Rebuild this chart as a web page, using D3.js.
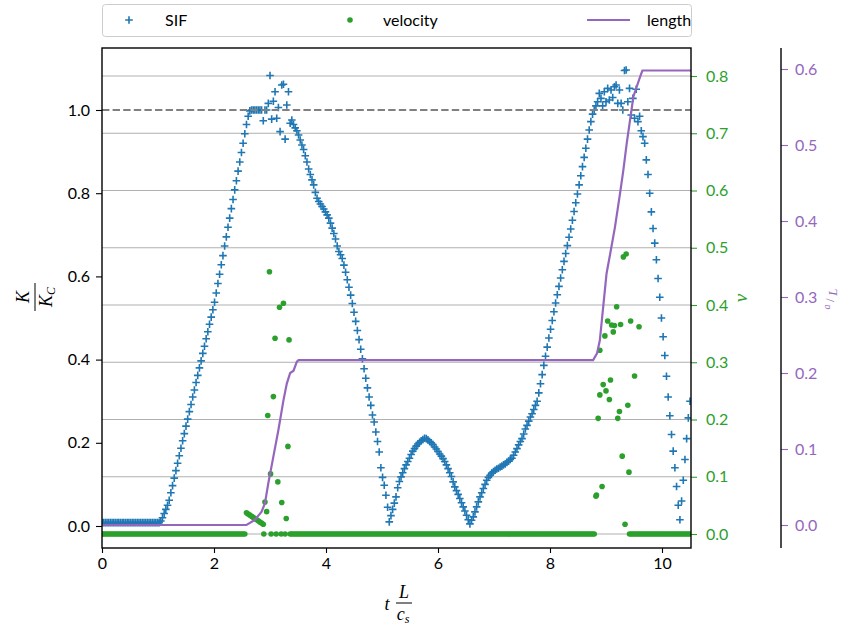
<!DOCTYPE html>
<html><head><meta charset="utf-8">
<script src="https://cdn.jsdelivr.net/npm/d3@7"></script>
<style>body{margin:0;background:#fff} svg{display:block}</style>
</head><body>
<svg id="c" width="843" height="631"></svg>
<script>
// ---------------- data ----------------
const dt = 0.03; // sampling step of the simulation output (t L / c_s)
// SIF K/K_C at every output step
const sifK = [
0.008,0.008,0.008,0.008,0.008,0.008,0.008,0.008,0.008,0.008,
0.008,0.008,0.008,0.008,0.008,0.008,0.008,0.008,0.008,0.008,
0.008,0.008,0.008,0.008,0.008,0.008,0.008,0.008,0.008,0.008,
0.008,0.008,0.008,0.008,0.008,0.012,0.02,0.03,0.04,0.05,
0.062,0.08,0.097,0.115,0.133,0.151,0.169,0.187,0.205,0.222,
0.24,0.257,0.275,0.292,0.31,0.327,0.345,0.362,0.38,0.397,
0.415,0.432,0.45,0.467,0.485,0.502,0.52,0.538,0.56,0.583,
0.605,0.628,0.65,0.673,0.695,0.718,0.74,0.763,0.785,0.808,
0.83,0.853,0.875,0.898,0.92,0.943,0.965,0.985,0.998,1.0,
1.0,1.0,1.0,1.0,1.0,1.0,0.974,1.0,1.0,1.016,
1.083,0.978,1.021,1.044,0.98,1.006,0.948,1.06,1.062,0.93,
1.012,1.044,0.968,0.976,0.965,0.957,0.95,0.94,0.928,0.916,
0.905,0.89,0.875,0.858,0.845,0.832,0.82,0.802,0.788,0.78,
0.774,0.768,0.762,0.755,0.748,0.74,0.728,0.716,0.703,0.69,
0.673,0.66,0.652,0.643,0.627,0.61,0.592,0.574,0.555,0.535,
0.514,0.492,0.47,0.448,0.425,0.402,0.378,0.355,0.332,0.31,
0.29,0.267,0.25,0.226,0.203,0.178,0.14,0.117,0.098,0.074,
0.045,0.01,0.025,0.04,0.055,0.07,0.092,0.107,0.118,0.128,
0.138,0.147,0.155,0.163,0.172,0.18,0.186,0.192,0.197,0.201,
0.205,0.208,0.211,0.21,0.207,0.203,0.2,0.196,0.19,0.185,
0.179,0.173,0.168,0.162,0.155,0.147,0.138,0.128,0.119,0.106,
0.094,0.085,0.076,0.066,0.056,0.046,0.036,0.026,0.015,0.005,
0.014,0.022,0.034,0.046,0.058,0.07,0.08,0.09,0.1,0.11,
0.117,0.122,0.127,0.131,0.134,0.137,0.139,0.142,0.144,0.147,
0.149,0.153,0.156,0.16,0.163,0.17,0.178,0.186,0.195,0.203,
0.21,0.221,0.233,0.242,0.252,0.262,0.27,0.28,0.29,0.3,
0.32,0.342,0.364,0.386,0.408,0.43,0.452,0.473,0.494,0.515,
0.536,0.556,0.576,0.596,0.616,0.636,0.655,0.674,0.694,0.714,
0.735,0.756,0.777,0.798,0.82,0.842,0.864,0.886,0.908,0.93,
0.952,0.972,0.99,1.0,1.01,1.02,1.04,1.028,1.01,1.044,
1.02,1.052,1.024,1.048,1.03,1.056,1.06,1.016,1.048,1.016,
1.0,1.095,1.096,1.02,1.052,0.988,1.028,0.98,1.05,0.972,
0.985,0.95,0.936,0.92,0.88,0.845,0.8,0.755,0.715,0.68,
0.64,0.595,0.55,0.5,0.455,0.41,0.36,0.31,0.265,0.22,
0.18,0.14,0.095,0.05,0.015,0.06,0.11,0.16,0.21,0.26,
0.3
];
// crack-tip velocity v at every output step (null = step listed in the burst arrays)
const velocity = [
0,0,0,0,0,0,0,0,0,0,
0,0,0,0,0,0,0,0,0,0,
0,0,0,0,0,0,0,0,0,0,
0,0,0,0,0,0,0,0,0,0,
0,0,0,0,0,0,0,0,0,0,
0,0,0,0,0,0,0,0,0,0,
0,0,0,0,0,0,0,0,0,0,
0,0,0,0,0,0,0,0,0,0,
0,0,0,0,0,0,0.037,0.035,0.033,0.031,
0.029,0.027,0.025,0.023,0.021,0.019,0.017,null,null,null,
null,null,null,null,null,null,null,null,null,null,
null,null,0,0,0,0,0,0,0,0,
0,0,0,0,0,0,0,0,0,0,
0,0,0,0,0,0,0,0,0,0,
0,0,0,0,0,0,0,0,0,0,
0,0,0,0,0,0,0,0,0,0,
0,0,0,0,0,0,0,0,0,0,
0,0,0,0,0,0,0,0,0,0,
0,0,0,0,0,0,0,0,0,0,
0,0,0,0,0,0,0,0,0,0,
0,0,0,0,0,0,0,0,0,0,
0,0,0,0,0,0,0,0,0,0,
0,0,0,0,0,0,0,0,0,0,
0,0,0,0,0,0,0,0,0,0,
0,0,0,0,0,0,0,0,0,0,
0,0,0,0,0,0,0,0,0,0,
0,0,0,0,0,0,0,0,0,0,
0,0,0,0,0,0,0,0,0,0,
0,0,0,0,0,0,0,0,0,0,
0,0,0,0,null,null,null,null,null,null,
null,null,null,null,null,null,null,null,null,null,
null,null,null,null,0,0,0,0,0,0,
0,0,0,0,0,0,0,0,0,0,
0,0,0,0,0,0,0,0,0,0,
0,0,0,0,0,0,0,0,0,0,
0
];
// velocity during the two propagation bursts
const burstT = [2.89,2.91,2.94,2.96,2.99,3.01,3.02,3.06,3.09,3.11,3.14,3.17,3.2,3.21,3.24,3.27,3.29,3.32,3.34,
  8.82,8.83,8.86,8.89,8.89,8.93,8.95,8.98,9.0,9.03,9.06,9.08,9.1,9.13,9.15,9.19,9.21,9.24,9.26,9.29,9.31,9.34,9.36,9.39,9.41,9.44,9.51,9.59];
const burstV = [0,0.056,0.039,0.207,0.458,0.105,0,0.24,0.342,0,0.091,0.396,0,0.055,0.403,0,0.027,0.153,0.339,
  0.066,0.068,0.202,0.321,0.243,0.083,0.261,0.346,0.25,0.372,0.235,0.269,0.365,0.353,0.364,0.397,0.202,0.214,0.366,0.136,0.484,0.017,0.489,0.225,0.108,0.372,0.276,0.362];
// crack length a/L
const lengthT = [0,2.58,2.73,2.85,2.91,2.97,3.06,3.15,3.24,3.30,3.36,3.42,3.48,3.51,8.77,8.84,8.89,8.95,9.01,9.07,9.16,9.25,9.31,9.37,9.43,9.49,9.55,9.61,9.65,10.6];
const lengthA = [0,0,0.0066,0.0175,0.0286,0.055,0.09,0.125,0.164,0.186,0.2,0.203,0.215,0.217,0.217,0.226,0.243,0.287,0.331,0.355,0.392,0.436,0.467,0.502,0.533,0.564,0.577,0.59,0.598,0.598];
const criticalK = 1.0;
const xTicks = [0,2,4,6,8,10];
const kTicks = [0,0.2,0.4,0.6,0.8,1.0];
const vTicks = [0,0.1,0.2,0.3,0.4,0.5,0.6,0.7,0.8];
const aTicks = [0,0.1,0.2,0.3,0.4,0.5,0.6];
const legendLabels = ["SIF","velocity","length"];

// ---------------- colours ----------------
const C_SIF = "#1f77b4", C_V = "#2ca02c", C_A = "#9467bd";
const FONT = "Lato, 'DejaVu Sans', sans-serif";
const MATH = "'Liberation Serif', 'DejaVu Serif', serif";

// ---------------- layout / scales ----------------
const L = 102, R = 691, T = 48, B = 548;
const time = sifK.map((_, i) => i * dt);
const x = d3.scaleLinear().domain([0, 10]).range([102, 662]);
const yK = d3.scaleLinear().domain([0, 1]).range([526, 110]);
const yV = d3.scaleLinear().domain([0, 0.8]).range([534, 76]);
const yA = d3.scaleLinear().domain([0, 0.6]).range([525, 69]);

const svg = d3.select("#c");
svg.append("defs").append("clipPath").attr("id", "clip")
  .append("rect").attr("x", L).attr("y", T).attr("width", R - L).attr("height", B - T);

// grid (velocity axis)
svg.append("g").selectAll("line").data(vTicks).join("line")
  .attr("x1", L).attr("x2", R).attr("y1", d => yV(d)).attr("y2", d => yV(d))
  .attr("stroke", "#b0b0b0").attr("stroke-width", 1);

const plot = svg.append("g").attr("clip-path", "url(#clip)");
const CROSS = "M-3.8,0H3.8M0,-3.8V3.8";

// SIF crosses
const sifPts = sifK.map((k, i) => ({t: time[i], k}));
plot.append("g").selectAll("path").data(sifPts).join("path")
  .attr("transform", d => `translate(${x(d.t)},${yK(d.k)})`)
  .attr("d", CROSS)
  .attr("stroke", C_SIF).attr("stroke-width", 1.6).attr("fill", "none");

// critical SIF
plot.append("line").attr("x1", L).attr("x2", R)
  .attr("y1", yK(criticalK)).attr("y2", yK(criticalK))
  .attr("stroke", "#808080").attr("stroke-width", 2.2).attr("stroke-dasharray", "7.4,3.2");

// velocity dots
const velPts = velocity.map((v, i) => ({t: time[i], v})).filter(d => d.v !== null)
  .concat(burstT.map((t, i) => ({t, v: burstV[i]})));
plot.append("g").selectAll("circle").data(velPts).join("circle")
  .attr("cx", d => x(d.t)).attr("cy", d => yV(d.v)).attr("r", 2.8).attr("fill", C_V);

// length line
const lenPts = lengthT.map((t, i) => ({t, a: lengthA[i]}));
plot.append("path").datum(lenPts)
  .attr("d", d3.line().x(d => x(d.t)).y(d => yA(d.a)))
  .attr("fill", "none").attr("stroke", C_A).attr("stroke-width", 2.2);

// ---------------- axes ----------------
function styleAxis(g, color) {
  g.select(".domain").remove();
  g.selectAll(".tick line").attr("stroke", color).attr("stroke-width", 1.1);
  g.selectAll(".tick text").attr("fill", color).attr("font-family", FONT).attr("font-size", 16);
}
svg.append("g").attr("transform", `translate(0,${B})`)
  .call(d3.axisBottom(x).tickValues(xTicks).tickFormat(d3.format("d")).tickSize(5).tickPadding(5))
  .call(g => styleAxis(g, "#000"));
svg.append("g").attr("transform", `translate(${L},0)`)
  .call(d3.axisLeft(yK).tickValues(kTicks).tickFormat(d3.format(".1f")).tickSize(6).tickPadding(6))
  .call(g => styleAxis(g, "#000"));
svg.append("g").attr("transform", `translate(${R},0)`)
  .call(d3.axisRight(yV).tickValues(vTicks).tickFormat(d3.format(".1f")).tickSize(6).tickPadding(9))
  .call(g => styleAxis(g, C_V));
svg.append("g").attr("transform", `translate(781,0)`)
  .call(d3.axisRight(yA).tickValues(aTicks).tickFormat(d3.format(".1f")).tickSize(7).tickPadding(7))
  .call(g => styleAxis(g, C_A));

// spines
svg.append("rect").attr("x", L).attr("y", T).attr("width", R - L).attr("height", B - T)
  .attr("fill", "none").attr("stroke", "#000").attr("stroke-width", 1.4);
svg.append("line").attr("x1", 781).attr("x2", 781).attr("y1", T).attr("y2", B)
  .attr("stroke", "#000").attr("stroke-width", 1.4);

// ---------------- axis labels ----------------
// x label: t L/c_s
const xl = svg.append("g").attr("font-family", MATH).attr("font-style", "italic").attr("fill", "#000");
xl.append("text").attr("x", 387).attr("y", 610).attr("font-size", 18).attr("text-anchor", "middle").text("t");
xl.append("text").attr("x", 404).attr("y", 598).attr("font-size", 18).attr("text-anchor", "middle").text("L");
xl.append("line").attr("x1", 396).attr("x2", 412).attr("y1", 603).attr("y2", 603).attr("stroke", "#000").attr("stroke-width", 1);
const cs = xl.append("text").attr("x", 403).attr("y", 620).attr("font-size", 18).attr("text-anchor", "middle");
cs.append("tspan").text("c");
cs.append("tspan").attr("font-size", 12).attr("dy", 3).text("s");

// y label: K / K_C
const yl = svg.append("g").attr("transform", "translate(37,297) rotate(-90)")
  .attr("font-family", MATH).attr("font-style", "italic").attr("fill", "#000");
yl.append("text").attr("x", 0).attr("y", -8).attr("font-size", 18).attr("text-anchor", "middle").text("K");
yl.append("line").attr("x1", -14).attr("x2", 14).attr("y1", -2).attr("y2", -2).attr("stroke", "#000").attr("stroke-width", 1);
const kc = yl.append("text").attr("x", 0).attr("y", 15).attr("font-size", 18).attr("text-anchor", "middle");
kc.append("tspan").text("K");
kc.append("tspan").attr("font-size", 12).attr("dy", 3).text("C");

// right labels
svg.append("text").attr("transform", "translate(747,298) rotate(-90)")
  .attr("font-family", MATH).attr("font-style", "italic").attr("font-size", 19)
  .attr("fill", C_V).attr("text-anchor", "middle").text("v");
const al = svg.append("text").attr("transform", "translate(834,299) rotate(-90)")
  .attr("font-family", MATH).attr("font-style", "italic").attr("font-size", 13)
  .attr("fill", C_A).attr("text-anchor", "middle");
al.append("tspan").attr("font-size", 10).attr("dy", -4).text("a");
al.append("tspan").attr("font-style", "normal").attr("dy", 4).text("\u2009/\u2009");
al.append("tspan").attr("dy", 3).text("L");

// ---------------- legend ----------------
const lg = svg.append("g");
lg.append("rect").attr("x", 102.5).attr("y", 4.5).attr("width", 589).attr("height", 32).attr("rx", 3)
  .attr("fill", "#fff").attr("stroke", "#cccccc").attr("stroke-width", 1);
lg.append("path").attr("transform", "translate(129,20)").attr("d", CROSS)
  .attr("stroke", C_SIF).attr("stroke-width", 1.6);
lg.append("circle").attr("cx", 350).attr("cy", 20).attr("r", 2.8).attr("fill", C_V);
lg.append("line").attr("x1", 587).attr("x2", 630).attr("y1", 20).attr("y2", 20).attr("stroke", C_A).attr("stroke-width", 2.2);
const lx = [165, 383, 647];
lg.selectAll("text.lab").data(legendLabels).join("text").attr("class", "lab")
  .attr("x", (d, i) => lx[i]).attr("y", 26).attr("font-family", FONT).attr("font-size", 16).attr("fill", "#000")
  .text(d => d);
</script>
</body></html>
